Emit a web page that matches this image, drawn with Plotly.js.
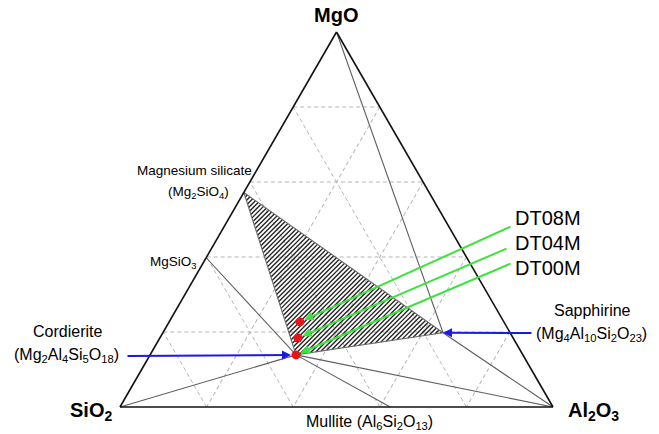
<!DOCTYPE html>
<html>
<head>
<meta charset="utf-8">
<script src="https://cdn.plot.ly/plotly-3.0.1.min.js"></script>
<style>
  html, body { margin: 0; padding: 0; background: #fff; }
  #chart { width: 659px; height: 434px; }
</style>
</head>
<body>
<div id="chart"></div>
<script>
// Phase compositions, wt%
const phaseNames = ['MgO', 'SiO2', 'Al2O3', 'Mg2SiO4', 'MgSiO3', 'Cordierite', 'Sapphirine', 'Mullite'];
const phaseMgO   = [100, 0, 0, 57.2, 39.8, 13.9, 19.8, 0];
const phaseSiO2  = [0, 100, 0, 42.8, 60.2, 52.4, 15.5, 37.6];
const phaseAl2O3 = [0, 0, 100, 0, 0, 33.7, 64.7, 62.4];

// Tie lines between phases
const tieLines = [
  ['MgO', 'Sapphirine'],
  ['Sapphirine', 'Al2O3'],
  ['Cordierite', 'SiO2'],
  ['Cordierite', 'MgSiO3'],
  ['Cordierite', 'Mullite'],
  ['Cordierite', 'Al2O3']
];
// Compatibility triangle (hatched)
const hatchedField = ['Mg2SiO4', 'Sapphirine', 'Cordierite'];

// Sample compositions, wt%
const samples     = ['DT00M', 'DT04M', 'DT08M'];
const sampleMgO   = [13.9, 18.4, 22.7];
const sampleSiO2  = [52.4, 49.7, 47.1];
const sampleAl2O3 = [33.7, 31.9, 30.2];

// Page geometry (px)
const W = 659, H = 434;
const TRI_LEFT = 120, TRI_BOTTOM = 407, TRI_SIDE = 433;
const SQ3 = Math.sqrt(3);

function idx(name) { return phaseNames.indexOf(name); }
function phase(name) { const i = idx(name); return [phaseMgO[i], phaseSiO2[i], phaseAl2O3[i]]; }

// ternary (a=MgO, b=SiO2, c=Al2O3) -> unit-triangle cartesian
function toXY(a, b, c) { const s = a + b + c; return [(c + a / 2) / s, (a / s) * SQ3 / 2]; }
function fromXY(X, Y) { const a = Y * 2 / SQ3; const c = X - a / 2; return [a * 100, (1 - a - c) * 100, c * 100]; }
function toPaper(a, b, c) {
  const [X, Y] = toXY(a, b, c);
  const px = TRI_LEFT + TRI_SIDE * X, py = TRI_BOTTOM - TRI_SIDE * Y;
  return { px, py, x: px / W, y: 1 - py / H };
}

// Tie line trace
const tie = { a: [], b: [], c: [] };
tieLines.forEach(([p, q]) => {
  [phase(p), phase(q)].forEach(v => { tie.a.push(v[0]); tie.b.push(v[1]); tie.c.push(v[2]); });
  tie.a.push(null); tie.b.push(null); tie.c.push(null);
});

// Hatched field outline
const field = hatchedField.map(phase);
const fieldOutline = { a: [], b: [], c: [] };
field.concat([field[0]]).forEach(v => { fieldOutline.a.push(v[0]); fieldOutline.b.push(v[1]); fieldOutline.c.push(v[2]); });

// 45-degree hatch lines clipped to the field
const HATCH_STEP = 4.6 / TRI_SIDE;
const fieldXY = field.map(v => toXY(v[0], v[1], v[2]));
const ks = fieldXY.map(p => p[1] - p[0]);
const hatch = { a: [], b: [], c: [] };
for (let k = Math.min(...ks) + HATCH_STEP / 2; k < Math.max(...ks); k += HATCH_STEP) {
  const pts = [];
  for (let i = 0; i < 3; i++) {
    const P = fieldXY[i], Q = fieldXY[(i + 1) % 3];
    const fp = P[1] - P[0] - k, fq = Q[1] - Q[0] - k;
    if ((fp <= 0 && fq > 0) || (fp > 0 && fq <= 0)) {
      const t = fp / (fp - fq);
      pts.push([P[0] + t * (Q[0] - P[0]), P[1] + t * (Q[1] - P[1])]);
    }
  }
  if (pts.length === 2) {
    pts.forEach(p => { const v = fromXY(p[0], p[1]); hatch.a.push(v[0]); hatch.b.push(v[1]); hatch.c.push(v[2]); });
    hatch.a.push(null); hatch.b.push(null); hatch.c.push(null);
  }
}

const traces = [
  { type: 'scatterternary', mode: 'lines', a: hatch.a, b: hatch.b, c: hatch.c,
    line: { color: '#222', width: 1.35 }, hoverinfo: 'skip', showlegend: false },
  { type: 'scatterternary', mode: 'lines', a: tie.a, b: tie.b, c: tie.c,
    line: { color: '#5e5e5e', width: 1.1 }, hoverinfo: 'skip', showlegend: false },
  { type: 'scatterternary', mode: 'lines', a: fieldOutline.a, b: fieldOutline.b, c: fieldOutline.c,
    line: { color: '#6a6a6a', width: 1.1 }, hoverinfo: 'skip', showlegend: false },
  { type: 'scatterternary', mode: 'markers', a: sampleMgO, b: sampleSiO2, c: sampleAl2O3, text: samples,
    marker: { color: '#e8141b', size: 9 }, hoverinfo: 'skip', showlegend: false }
];

const FONT = 'Liberation Sans, Arial, sans-serif';
function label(text, px, py, size, xanchor, bold) {
  return {
    xref: 'paper', yref: 'paper', x: px / W, y: 1 - py / H,
    text: bold ? '<b>' + text + '</b>' : text, showarrow: false,
    xanchor: xanchor || 'center', yanchor: 'middle',
    font: { family: FONT, size: size, color: '#000' }
  };
}
function arrow(target, tailPx, tailPy, color, standoff) {
  const t = toPaper(target[0], target[1], target[2]);
  return {
    xref: 'paper', yref: 'paper', x: t.x, y: t.y, text: '',
    showarrow: true, arrowhead: 2, arrowsize: 0.9, arrowwidth: 2, arrowcolor: color,
    standoff: standoff, ax: tailPx - t.px, ay: tailPy - t.py
  };
}

const sample = i => [sampleMgO[i], sampleSiO2[i], sampleAl2O3[i]];
const GREEN = '#3de33d', BLUE = '#1a1ae6';

const annotations = [
  label('MgO', 336, 15, 20, 'center', true),
  label('SiO<sub>2</sub>', 114, 411, 20, 'right', true),
  label('Al<sub>2</sub>O<sub>3</sub>', 566, 411, 20, 'left', true),
  label('Magnesium silicate', 254, 170, 13.5, 'right'),
  label('(Mg<sub>2</sub>SiO<sub>4</sub>)', 198, 192, 13.5, 'center'),
  label('MgSiO<sub>3</sub>', 199, 262, 13.5, 'right'),
  label('Cordierite', 67, 331, 16, 'center'),
  label('(Mg<sub>2</sub>Al<sub>4</sub>Si<sub>5</sub>O<sub>18</sub>)', 66, 355, 16, 'center'),
  label('Sapphirine', 592, 310, 16, 'center'),
  label('(Mg<sub>4</sub>Al<sub>10</sub>Si<sub>2</sub>O<sub>23</sub>)', 591, 334, 16, 'center'),
  label('Mullite (Al<sub>6</sub>Si<sub>2</sub>O<sub>13</sub>)', 369, 422, 16, 'center'),
  label(samples[2], 513, 218, 20, 'left'),
  label(samples[1], 513, 243, 20, 'left'),
  label(samples[0], 513, 268, 20, 'left'),
  arrow(sample(2), 512, 226, GREEN, 5),
  arrow(sample(1), 508, 248, GREEN, 5),
  arrow(sample(0), 512, 263, GREEN, 5),
  arrow(phase('Cordierite'), 126, 356, BLUE, 5),
  arrow(phase('Sapphirine'), 533, 333, BLUE, 0)
];

const axisStyle = {
  min: 0, tick0: 0, dtick: 20, ticks: '', showticklabels: false,
  showgrid: true, gridcolor: '#b5b5b5', gridwidth: 1, griddash: '4px,3px',
  showline: true, linecolor: '#111', linewidth: 1.6, title: { text: '' }
};

const layout = {
  width: W, height: H,
  margin: { l: 0, r: 0, t: 0, b: 0 },
  paper_bgcolor: '#fff',
  showlegend: false,
  ternary: {
    sum: 100,
    bgcolor: '#fff',
    domain: {
      x: [TRI_LEFT / W, (TRI_LEFT + TRI_SIDE) / W],
      y: [(H - TRI_BOTTOM) / H, (H - TRI_BOTTOM + TRI_SIDE * SQ3 / 2) / H]
    },
    aaxis: axisStyle, baxis: axisStyle, caxis: axisStyle
  },
  annotations: annotations
};

Plotly.newPlot('chart', traces, layout, { displayModeBar: false, staticPlot: true });
</script>
</body>
</html>
